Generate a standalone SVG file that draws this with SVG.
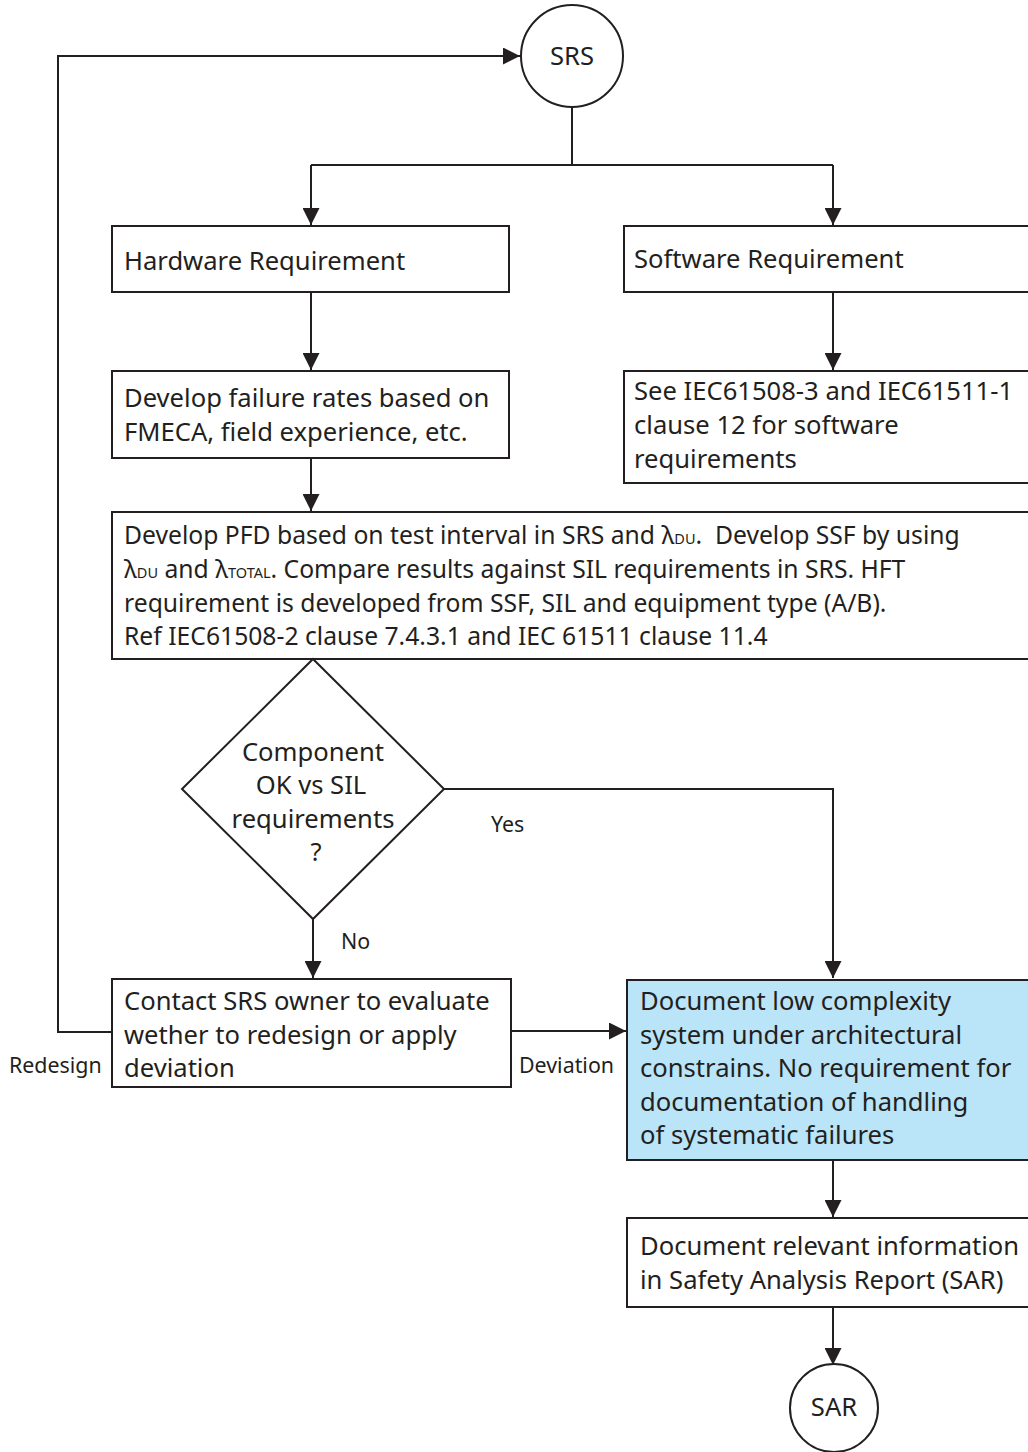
<svg xmlns="http://www.w3.org/2000/svg" width="1028" height="1452" viewBox="0 0 1028 1452">
  <style>
    .box { fill: #ffffff; stroke: #231f20; stroke-width: 2; }
    .hl { fill: #bae4f8; }
    .ln { fill: none; stroke: #231f20; stroke-width: 2; }
    text { font-family: "Noto Sans", "Open Sans", sans-serif; fill: #231f20; font-size: 25.6px; }
    .pfd { font-size: 24.7px; }
    .lbl { font-size: 21.4px; }
    .sub { font-size: 14.5px; }
    .c { text-anchor: middle; }
  </style>
  <defs>
    <marker id="arr" viewBox="0 0 10 10" refX="10" refY="5" markerWidth="17" markerHeight="17" markerUnits="userSpaceOnUse" orient="auto">
      <path d="M0,0 L10,5 L0,10 Z" fill="#231f20"/>
    </marker>
  </defs>

  <g id="connectors">
    <path class="ln" d="M572,107 V165"/>
    <path class="ln" d="M311,165 H833"/>
    <path class="ln" d="M311,165 V225" marker-end="url(#arr)"/>
    <path class="ln" d="M833,165 V225" marker-end="url(#arr)"/>
    <path class="ln" d="M311,292 V370" marker-end="url(#arr)"/>
    <path class="ln" d="M833,292 V370" marker-end="url(#arr)"/>
    <path class="ln" d="M311,458 V511" marker-end="url(#arr)"/>
    <path class="ln" d="M444,789 H833 V978" marker-end="url(#arr)"/>
    <path class="ln" d="M313,919 V978" marker-end="url(#arr)"/>
    <path class="ln" d="M112,1032 H58 V56 H520" marker-end="url(#arr)"/>
    <path class="ln" d="M511,1031 H626" marker-end="url(#arr)"/>
    <path class="ln" d="M833,1160 V1217" marker-end="url(#arr)"/>
    <path class="ln" d="M833,1307 V1365" marker-end="url(#arr)"/>
    <text class="lbl" x="491" y="832">Yes</text>
    <text class="lbl" x="341" y="949">No</text>
    <text class="lbl" x="9" y="1073">Redesign</text>
    <text class="lbl" x="519" y="1073">Deviation</text>
  </g>

  <g id="srs">
    <circle class="box" cx="572" cy="56" r="51"/>
    <text class="c" x="572" y="65">SRS</text>
  </g>

  <g id="hardware">
    <rect class="box" x="112" y="226" width="397" height="66"/>
    <text x="124" y="270">Hardware Requirement</text>
  </g>

  <g id="software">
    <rect class="box" x="624" y="226" width="420" height="66"/>
    <text x="634" y="268">Software Requirement</text>
  </g>

  <g id="failure-rates">
    <rect class="box" x="112" y="371" width="397" height="87"/>
    <text x="124" y="407">Develop failure rates based on</text>
    <text x="124" y="441">FMECA, field experience, etc.</text>
  </g>

  <g id="software-ref">
    <rect class="box" x="624" y="371" width="420" height="112"/>
    <text x="634" y="400">See IEC61508-3 and IEC61511-1</text>
    <text x="634" y="434">clause 12 for software</text>
    <text x="634" y="468">requirements</text>
  </g>

  <g id="pfd">
    <rect class="box" x="112" y="512" width="930" height="147"/>
    <text class="pfd" x="124" y="544">Develop PFD based on test interval in SRS and λ<tspan class="sub">DU</tspan>.&#160; Develop SSF by using</text>
    <text class="pfd" x="124" y="578">λ<tspan class="sub">DU</tspan> and λ<tspan class="sub">TOTAL</tspan>. Compare results against SIL requirements in SRS. HFT</text>
    <text class="pfd" x="124" y="612">requirement is developed from SSF, SIL and equipment type (A/B).</text>
    <text class="pfd" x="124" y="645">Ref IEC61508-2 clause 7.4.3.1 and IEC 61511 clause 11.4</text>
  </g>

  <g id="decision">
    <polygon class="box" points="313,659 444,789 313,919 182,789"/>
    <text class="c" x="313" y="761">Component</text>
    <text class="c" x="311" y="794">OK vs SIL</text>
    <text class="c" x="313" y="828">requirements</text>
    <text class="c" x="316" y="861">?</text>
  </g>

  <g id="contact-owner">
    <rect class="box" x="112" y="979" width="399" height="108"/>
    <text x="124" y="1010">Contact SRS owner to evaluate</text>
    <text x="124" y="1044">wether to redesign or apply</text>
    <text x="124" y="1077">deviation</text>
  </g>

  <g id="low-complexity">
    <rect class="box hl" x="627" y="980" width="420" height="180"/>
    <text x="640" y="1010">Document low complexity</text>
    <text x="640" y="1044">system under architectural</text>
    <text x="640" y="1077">constrains. No requirement for</text>
    <text x="640" y="1111">documentation of handling</text>
    <text x="640" y="1144">of systematic failures</text>
  </g>

  <g id="document-sar">
    <rect class="box" x="627" y="1218" width="420" height="89"/>
    <text x="640" y="1255">Document relevant information</text>
    <text x="640" y="1289">in Safety Analysis Report (SAR)</text>
  </g>

  <g id="sar">
    <circle class="box" cx="834" cy="1408" r="44"/>
    <text class="c" x="834" y="1416">SAR</text>
  </g>
</svg>
